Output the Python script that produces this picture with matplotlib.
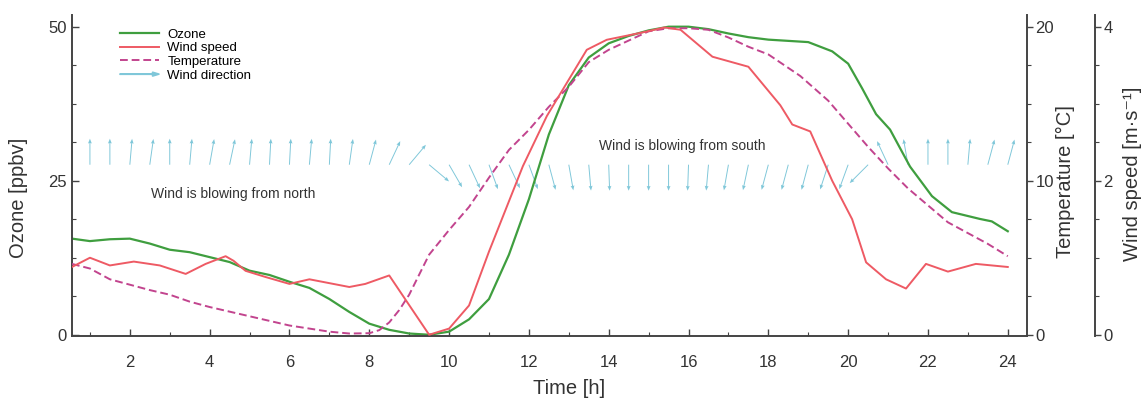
import numpy as np
import matplotlib
matplotlib.use("Agg")
import matplotlib.pyplot as plt
from matplotlib.lines import Line2D
from matplotlib.patches import FancyArrow
from matplotlib.legend_handler import HandlerPatch
from matplotlib.ticker import MultipleLocator

plt.rcParams['font.family'] = ['Liberation Sans', 'DejaVu Sans']

# ozone [ppbv]
ozone_t = [0.55, 1.0, 1.5, 2.0, 2.5, 3.0, 3.5, 4.0, 4.5, 5.0, 5.5, 6.0, 6.5, 7.0, 7.5, 8.0,
           8.5, 9.0, 9.5, 10.0, 10.5, 11.0, 11.5, 12.0, 12.5, 13.0, 13.5, 14.0, 14.5, 15.0,
           15.5, 16.0, 16.5, 17.0, 17.5, 18.0, 18.5, 19.0, 19.6, 20.0, 20.35, 20.7, 21.05,
           21.55, 22.1, 22.6, 23.3, 23.6, 24.0]
ozone = [15.6, 15.2, 15.5, 15.6, 14.8, 13.8, 13.4, 12.6, 11.8, 10.4, 9.7, 8.6, 7.6, 5.8, 3.7, 1.8,
         0.8, 0.2, 0.0, 0.5, 2.5, 5.8, 13.0, 22.0, 32.5, 40.5, 45.0, 47.3, 48.5, 49.4,
         50.0, 50.0, 49.6, 48.9, 48.3, 47.9, 47.7, 47.5, 46.0, 44.0, 40.0, 35.8, 33.3,
         27.3, 22.5, 19.9, 18.8, 18.4, 16.8]

# wind speed [m/s]
ws_t = [0.55, 1.0, 1.5, 2.1, 2.75, 3.4, 3.9, 4.4, 4.6, 4.9, 5.4, 6.0, 6.5, 7.1, 7.5, 7.9,
        8.5, 9.5, 10.0, 10.5, 11.0, 11.85, 12.45, 12.95, 13.45, 13.95, 14.8, 15.4, 15.8,
        16.6, 17.5, 18.3, 18.6, 19.05, 19.6, 20.1, 20.45, 20.95, 21.45, 21.95, 22.5,
        23.2, 24.0]
wind_speed = [0.88, 1.0, 0.9, 0.95, 0.9, 0.79, 0.92, 1.02, 0.96, 0.83, 0.75, 0.66, 0.72, 0.66, 0.62, 0.66,
              0.77, 0.0, 0.08, 0.38, 1.08, 2.19, 2.84, 3.27, 3.7, 3.83, 3.92, 3.99, 3.96,
              3.61, 3.48, 2.98, 2.73, 2.64, 2.0, 1.5, 0.94, 0.72, 0.6, 0.92, 0.82,
              0.92, 0.88]

# temperature [deg C]
temp_t = [0.55, 1.0, 1.5, 2.0, 2.5, 3.0, 3.5, 4.0, 4.5, 5.0, 5.5, 6.0, 6.5, 7.0, 7.5, 8.0,
          8.25, 8.5, 8.75, 9.0, 9.5, 10.0, 10.5, 11.0, 11.5, 12.0, 12.5, 13.0, 13.5, 14.0,
          14.5, 15.0, 15.5, 16.0, 16.5, 17.0, 17.5, 18.0, 18.8, 19.5, 20.0, 20.5,
          21.0, 21.5, 22.0, 22.5, 23.0, 23.5, 24.0]
temperature = [4.6, 4.3, 3.6, 3.25, 2.9, 2.6, 2.15, 1.8, 1.5, 1.2, 0.9, 0.6, 0.4, 0.2, 0.08, 0.1,
               0.3, 0.8, 1.6, 2.6, 5.2, 6.8, 8.3, 10.2, 12.0, 13.3, 14.8, 16.1, 17.7, 18.5,
               19.1, 19.7, 19.9, 19.9, 19.8, 19.3, 18.7, 18.2, 16.8, 15.2, 13.7, 12.2,
               10.8, 9.5, 8.4, 7.3, 6.6, 5.9, 5.1]

# wind direction, arrow angle in degrees clockwise from "up"
wd_t = np.arange(1.0, 24.01, 0.5)
wind_dir = [0, 0, 5, 8, 0, 5, 10, 12, 5, 3, 3, 5, 3, 8, 15, 25,
            40, 130, 150, 155, 160, 155, 160, 165, 170, 175, 178, 180, 180, 180, 182,
            185, 190, 192, 195, 195, 195, 198, 200, 225, -25, -10, 0, 0, 5, 15, 15]

green = '#3f9e3f'
red = '#ee5a64'
magenta = '#c2448e'
cyan = '#7fc7d9'
axcol = '#444444'
txtcol = '#333333'

fig = plt.figure(figsize=(11.46, 4.03), dpi=100)
ax = fig.add_axes([0.0628, 0.1663, 0.8333, 0.7965])

ymax = 51.9
ax.set_xlim(0.55, 24.48)
ax.set_ylim(-0.2, ymax)

ax.plot(ozone_t, ozone, color=green, lw=1.6)

ax_t = ax.twinx()
ax_t.set_ylim(-0.2 * 20 / 50, ymax * 20 / 50)
ax_t.plot(temp_t, temperature, color=magenta, lw=1.4, ls=(0, (4, 2)))

ax_w = ax.twinx()
ax_w.set_ylim(-0.2 * 4 / 50, ymax * 4 / 50)
ax_w.plot(ws_t, wind_speed, color=red, lw=1.4)

# wind direction arrows (screen-space direction)
ang = np.deg2rad(wind_dir)
ax.quiver(wd_t, np.full(len(wd_t), 27.6), np.sin(ang), np.cos(ang),
          angles='uv', scale_units='inches', scale=1 / 0.26, pivot='tail',
          width=0.001, headwidth=4, headlength=5, headaxislength=4.5,
          color=cyan, zorder=1)

ax.text(4.6, 22.8, 'Wind is blowing from north', fontsize=10, color=txtcol,
        ha='center', va='center')
ax.text(15.85, 30.7, 'Wind is blowing from south', fontsize=10, color=txtcol,
        ha='center', va='center')

# spines
for a in (ax, ax_t, ax_w):
    a.spines['top'].set_visible(False)
ax.spines['right'].set_visible(False)
for a in (ax_t, ax_w):
    a.spines['left'].set_visible(False)
    a.spines['bottom'].set_visible(False)
ax_w.spines['right'].set_position(('outward', 49))
for a, s in ((ax, 'left'), (ax, 'bottom'), (ax_t, 'right'), (ax_w, 'right')):
    a.spines[s].set_color(axcol)
    a.spines[s].set_linewidth(1.4)

ax.xaxis.set_major_locator(MultipleLocator(2))
ax.xaxis.set_minor_locator(MultipleLocator(1))
ax.yaxis.set_major_locator(MultipleLocator(25))
ax.yaxis.set_minor_locator(MultipleLocator(6.25))
ax_t.yaxis.set_major_locator(MultipleLocator(10))
ax_t.yaxis.set_minor_locator(MultipleLocator(2.5))
ax_w.yaxis.set_major_locator(MultipleLocator(2))
ax_w.yaxis.set_minor_locator(MultipleLocator(0.5))

ax.tick_params(which='major', direction='in', length=5, width=1.0, color=axcol,
               labelsize=12, labelcolor=txtcol)
ax.tick_params(which='minor', direction='in', length=3, width=0.8, color=axcol)
for a in (ax_t, ax_w):
    a.tick_params(which='major', direction='out', length=4, width=1.0, color=axcol,
                  labelsize=12, labelcolor=txtcol, pad=2)
    a.tick_params(which='minor', direction='out', length=3, width=0.8, color=axcol)
ax.tick_params(axis='x', pad=14)

ax.set_xlabel('Time [h]', fontsize=14.5, color=txtcol, labelpad=4)
ax.xaxis.set_label_coords(0.521, -0.135)
ax.set_ylabel('Ozone [ppbv]', fontsize=14.5, color=txtcol)
ax.yaxis.set_label_coords(-0.046, 0.43)
ax_t.set_ylabel('Temperature [°C]', fontsize=14.5, color=txtcol)
ax_t.yaxis.set_label_coords(1.030, 0.48)
ax_w.set_ylabel('Wind speed [m·s⁻¹]', fontsize=14.5, color=txtcol)
ax_w.yaxis.set_label_coords(1.101, 0.505)


def make_arrow(legend, orig_handle, xdescent, ydescent, width, height, fontsize):
    return FancyArrow(0, height / 2, width, 0, width=0.4, head_width=3,
                      head_length=5, length_includes_head=True, color=cyan)


handles = [Line2D([], [], color=green, lw=1.6),
           Line2D([], [], color=red, lw=1.4),
           Line2D([], [], color=magenta, lw=1.4, ls=(0, (4, 2))),
           FancyArrow(0, 0, 1, 0, color=cyan)]
labels = ['Ozone', 'Wind speed', 'Temperature', 'Wind direction']
ax.legend(handles, labels, loc='upper left', bbox_to_anchor=(0.036, 1.0),
          frameon=False, fontsize=9.5, handlelength=3.0, handletextpad=0.6,
          labelspacing=0.11, borderaxespad=0.62,
          handler_map={FancyArrow: HandlerPatch(patch_func=make_arrow)})

fig.savefig('out.png', dpi=100)
